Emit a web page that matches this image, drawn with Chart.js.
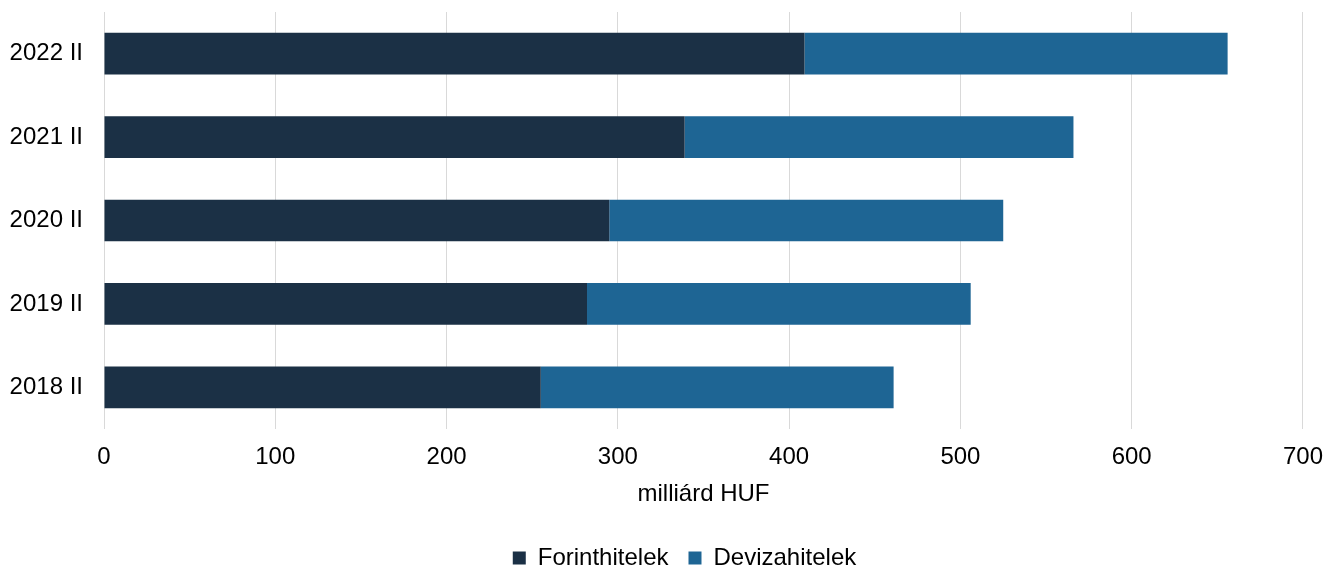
<!DOCTYPE html>
<html>
<head>
<meta charset="utf-8">
<script src="https://cdn.jsdelivr.net/npm/chart.js@4"></script>
<style>
  html, body { margin: 0; padding: 0; background: #fff; }
  #wrap { width: 1337px; height: 568px; }
</style>
</head>
<body>
<div id="wrap"><canvas id="chart" width="1337" height="568"></canvas></div>
<script>
const labels = ['2022 II', '2021 II', '2020 II', '2019 II', '2018 II'];
const forintValues = [409, 339, 295, 282, 255];
const devizaValues = [247, 227, 230, 224, 206];
const xTicks = [0, 100, 200, 300, 400, 500, 600, 700];

Chart.defaults.font.family = '"Liberation Sans", Arial, sans-serif';
Chart.defaults.font.size = 24;
Chart.defaults.color = '#000';

const ctx = document.getElementById('chart').getContext('2d');

// nudge the legend a bit right, the original one is not centred on the canvas
const legendShift = {
    id: 'legendShift',
    afterLayout(chart) {
        if (chart.legend) chart.legend.left += 66;
    }
};

const chart = new Chart(ctx, {
    type: 'bar',
    data: {
        labels: labels,
        datasets: [{
            label: 'Forinthitelek',
            data: forintValues,
            backgroundColor: '#1b3045',
            borderWidth: 0,
            barPercentage: 0.5,
            categoryPercentage: 1.0,
        }, {
            label: 'Devizahitelek',
            data: devizaValues,
            backgroundColor: '#1e6594',
            borderWidth: 0,
            barPercentage: 0.5,
            categoryPercentage: 1.0,
        }]
    },
    options: {
        indexAxis: 'y',
        responsive: false,
        animation: false,
        layout: {
            padding: { left: 0, right: 34, top: 12, bottom: -12 }
        },
        scales: {
            x: {
                stacked: true,
                min: 0,
                max: 700,
                afterBuildTicks: (scale) => {
                    scale.ticks = xTicks.map(v => ({ value: v }));
                },
                grid: { color: '#d9d9d9', lineWidth: 1, drawTicks: false },
                border: { display: false },
                ticks: { padding: 14 },
                title: {
                    display: true,
                    text: 'milliárd HUF',
                    padding: { top: 8, bottom: 17 }
                },
                afterFit: (scale) => { scale.height = 97; }
            },
            y: {
                stacked: true,
                grid: { display: false, drawTicks: false },
                border: { display: false },
                ticks: { padding: 21 },
                afterFit: (scale) => {
                    scale.width = 104;
                    scale.paddingTop = 0;
                    scale.paddingBottom = 0;
                }
            }
        },
        plugins: {
            legend: {
                position: 'bottom',
                labels: {
                    boxWidth: 13,
                    boxHeight: 13,
                    padding: 20
                }
            },
            tooltip: { enabled: false }
        }
    },
    plugins: [legendShift]
});
</script>
</body>
</html>
